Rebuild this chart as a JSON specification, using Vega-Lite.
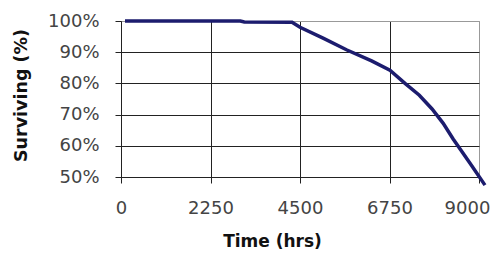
{
  "$schema": "https://vega.github.io/schema/vega-lite/v6.json",
  "width": 358,
  "height": 156,
  "autosize": "none",
  "padding": {"left": 121, "top": 21, "right": 25, "bottom": 78},
  "background": "white",
  "config": {
    "view": {"stroke": "#999", "strokeWidth": 1},
    "font": "DejaVu Sans"
  },
  "data": {
    "values": [
      {"t": 100, "s": 1.0},
      {"t": 3000, "s": 1.0},
      {"t": 3100, "s": 0.997},
      {"t": 4300, "s": 0.996},
      {"t": 4500, "s": 0.98},
      {"t": 5080, "s": 0.945},
      {"t": 5680, "s": 0.907},
      {"t": 6300, "s": 0.872},
      {"t": 6760, "s": 0.842},
      {"t": 7140, "s": 0.80},
      {"t": 7500, "s": 0.762},
      {"t": 7820, "s": 0.718},
      {"t": 8100, "s": 0.672},
      {"t": 8350, "s": 0.622},
      {"t": 8770, "s": 0.545},
      {"t": 9150, "s": 0.474}
    ]
  },
  "mark": {"type": "line", "color": "#1c1c6e", "strokeWidth": 3.5, "clip": false},
  "encoding": {
    "x": {
      "field": "t", "type": "quantitative",
      "scale": {"domain": [0, 9000], "nice": false, "zero": false},
      "axis": {
        "values": [0, 2250, 4500, 6750, 9000],
        "format": "d",
        "title": "Time (hrs)",
        "titleFont": "DejaVu Sans", "titleFontSize": 17, "titleFontWeight": "bold", "titleColor": "#111",
        "titleX": 151, "titleY": 64, "titleBaseline": "middle", "titleAnchor": null,
        "labelFont": "DejaVu Sans", "labelFontSize": 18, "labelColor": "#444", "labelPadding": 16,
        "labelOffset": {"condition": {"test": "datum.value == 9000", "value": -12}, "value": 0},
        "tickSize": 6, "tickColor": "#222", "domainColor": "#222",
        "gridColor": {"condition": {"test": "datum.value == 9000", "value": "#999"}, "value": "#222"},
        "labelFlush": false
      }
    },
    "y": {
      "field": "s", "type": "quantitative",
      "scale": {"domain": [0.5, 1.0], "nice": false, "zero": false},
      "axis": {
        "values": [0.5, 0.6, 0.7, 0.8, 0.9, 1.0],
        "format": ".0%",
        "title": "Surviving (%)",
        "titleFont": "DejaVu Sans", "titleFontSize": 17.5, "titleFontWeight": "bold", "titleColor": "#111",
        "titleX": -100, "titleY": 74, "titleBaseline": "middle", "titleAngle": -90, "titleAnchor": null,
        "labelFont": "DejaVu Sans", "labelFontSize": 18, "labelColor": "#444", "labelPadding": 16,
        "tickSize": 6, "tickColor": "#222", "domainColor": "#222",
        "gridColor": {"condition": {"test": "datum.value == 1", "value": "#999"}, "value": "#222"},
        "labelFlush": false
      }
    }
  }
}
